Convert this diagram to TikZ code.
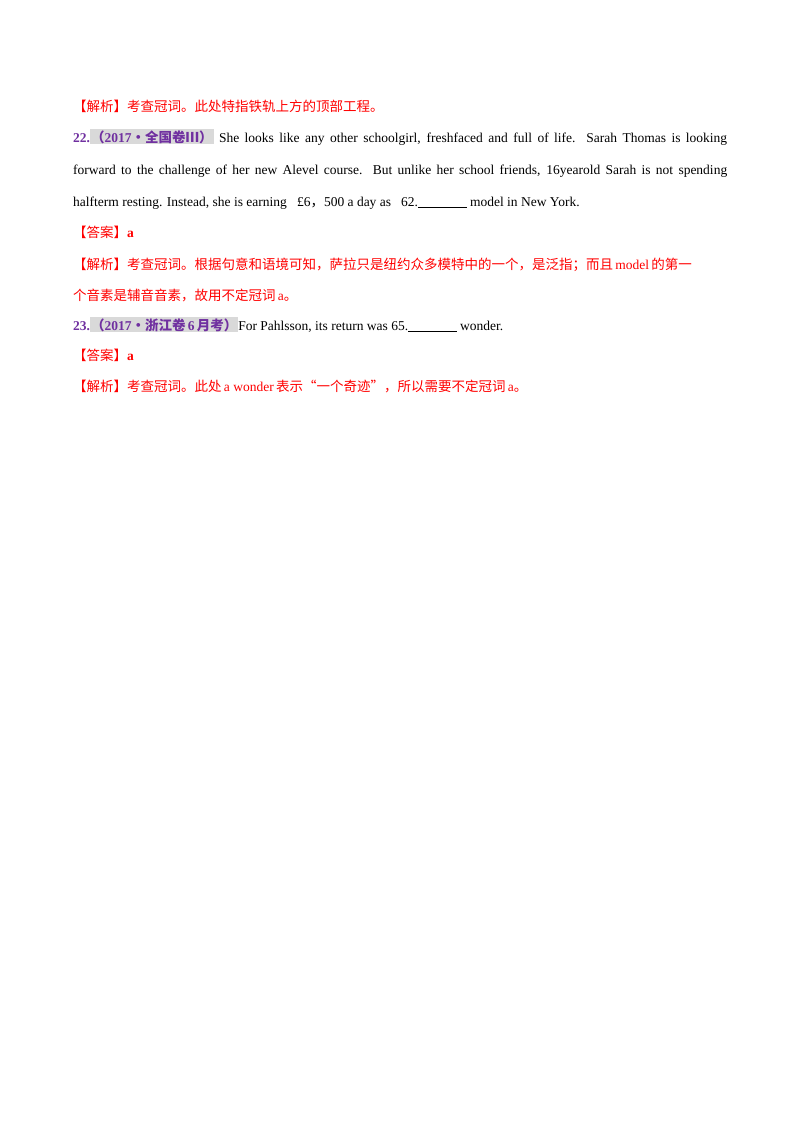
\documentclass[tikz,border=0pt]{standalone}
\usepackage{fontspec}
\setmainfont{Liberation Serif}
\newfontfamily\cjk{Noto Sans CJK SC}
\definecolor{pur}{HTML}{7030A0}
\definecolor{hl}{HTML}{D9D9D9}
\tikzset{ln/.style={anchor=base west,inner sep=0pt,font=\fontsize{13.5}{16}\selectfont},
red/.style={ln,text=red}}
\newcommand{\tag}[1]{{\setlength{\fboxsep}{1pt}\colorbox{hl}{\textcolor{pur}{\bfseries #1}}}}
\begin{document}
\begin{tikzpicture}[x=1pt,y=-1pt]
\useasboundingbox[fill=white] (0,0) rectangle (800,1132);
\node[red] (l1) at (73,111) {{\cjk 【解析】考查冠词。此处特指铁轨上方的顶部工程。}};
\node[ln] (l2) at (73,142) {\makebox[654pt][s]{\textcolor{pur}{\bfseries 22.}\tag{{\cjk （}2017{\cjk ·全国卷Ⅲ）}} She looks like any other schoolgirl, freshfaced and full of life. Sarah Thomas is looking}};
\node[ln] (l3) at (73,174) {\makebox[654pt][s]{forward to the challenge of her new Alevel course. But unlike her school friends, 16yearold Sarah is not spending}};
\node[ln] (l4) at (73,206) {halfterm resting. Instead, she is earning \ \ £6{\cjk ，}500 a day as \ \ 62.\underline{\hspace{3.6em}} model in New York.};
\node[red] (l5) at (73,237) {{\cjk 【答案】}\textbf{a}};
\node[red] (l6) at (73,269) {{\cjk 【解析】考查冠词。根据句意和语境可知，萨拉只是纽约众多模特中的一个，是泛指；而且}\,model\,{\cjk 的第一}};
\node[red] (l7) at (73,300) {{\cjk 个音素是辅音音素，故用不定冠词}\,a{\cjk 。}};
\node[ln] (l8) at (73,330) {\textcolor{pur}{\bfseries 23.}\tag{{\cjk （}2017{\cjk ·浙江卷}\,6\,{\cjk 月考）}}For Pahlsson, its return was 65.\underline{\hspace{3.6em}} wonder.};
\node[red] (l9) at (73,360) {{\cjk 【答案】}\textbf{a}};
\node[red] (l10) at (73,391) {{\cjk 【解析】考查冠词。此处}\,a wonder\,{\cjk 表示“一个奇迹”，所以需要不定冠词}\,a{\cjk 。}};
\end{tikzpicture}
\end{document}
